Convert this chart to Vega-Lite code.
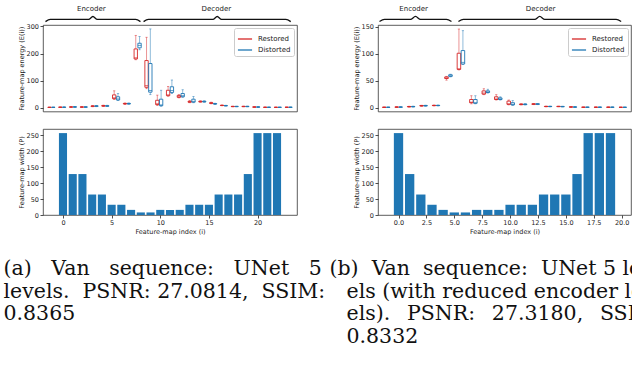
{
  "$schema": "https://vega.github.io/schema/vega-lite/v6.json",
  "background": "white",
  "padding": {"left": 3, "top": 4, "right": 0, "bottom": 0},
  "bounds": "flush",
  "columns": 2,
  "spacing": {"row": 17, "column": 81},
  "datasets": {
    "boxA": [
      {"i":0,"s":"Restored","lo":0.2,"q1":0.5,"med":0.8,"q3":1.2,"hi":1.8},
      {"i":1,"s":"Restored","lo":0.5,"q1":0.9,"med":1.2,"q3":1.6,"hi":2.2},
      {"i":2,"s":"Restored","lo":1.0,"q1":1.6,"med":2.0,"q3":2.6,"hi":3.5},
      {"i":3,"s":"Restored","lo":1.0,"q1":1.5,"med":2.0,"q3":2.5,"hi":3.2},
      {"i":4,"s":"Restored","lo":3,"q1":4.5,"med":5,"q3":6,"hi":7.5},
      {"i":5,"s":"Restored","lo":4,"q1":5.5,"med":6.5,"q3":7.5,"hi":9},
      {"i":6,"s":"Restored","lo":30,"q1":33,"med":36,"q3":47,"hi":62},
      {"i":7,"s":"Restored","lo":12,"q1":13.5,"med":14.5,"q3":15.5,"hi":17},
      {"i":8,"s":"Restored","lo":177,"q1":180,"med":184,"q3":217,"hi":267},
      {"i":9,"s":"Restored","lo":70,"q1":75,"med":81,"q3":174,"hi":260},
      {"i":10,"s":"Restored","lo":8,"q1":11,"med":14,"q3":27,"hi":46},
      {"i":11,"s":"Restored","lo":42,"q1":44,"med":47,"q3":64,"hi":78},
      {"i":12,"s":"Restored","lo":36,"q1":38,"med":40,"q3":45,"hi":48},
      {"i":13,"s":"Restored","lo":18,"q1":20,"med":21,"q3":23,"hi":26},
      {"i":14,"s":"Restored","lo":20,"q1":21,"med":22,"q3":23.5,"hi":25},
      {"i":15,"s":"Restored","lo":14,"q1":15.5,"med":16.5,"q3":18,"hi":20},
      {"i":16,"s":"Restored","lo":7,"q1":7.5,"med":8,"q3":8.5,"hi":9.5},
      {"i":17,"s":"Restored","lo":3,"q1":3.5,"med":4,"q3":4.5,"hi":5},
      {"i":18,"s":"Restored","lo":3,"q1":3.5,"med":4,"q3":4.5,"hi":5.5},
      {"i":19,"s":"Restored","lo":1,"q1":1.5,"med":2,"q3":2.5,"hi":3},
      {"i":20,"s":"Restored","lo":0.5,"q1":0.8,"med":1,"q3":1.3,"hi":1.8},
      {"i":21,"s":"Restored","lo":0.4,"q1":0.7,"med":0.9,"q3":1.2,"hi":1.6},
      {"i":22,"s":"Restored","lo":0.5,"q1":0.8,"med":1,"q3":1.4,"hi":2},
      {"i":0,"s":"Distorted","lo":0.2,"q1":0.5,"med":0.8,"q3":1.2,"hi":1.8},
      {"i":1,"s":"Distorted","lo":0.5,"q1":0.9,"med":1.2,"q3":1.6,"hi":2.2},
      {"i":2,"s":"Distorted","lo":1.2,"q1":1.8,"med":2.3,"q3":2.8,"hi":3.6},
      {"i":3,"s":"Distorted","lo":1.0,"q1":1.5,"med":2,"q3":2.5,"hi":3.2},
      {"i":4,"s":"Distorted","lo":3.5,"q1":4.5,"med":5.5,"q3":6.5,"hi":8},
      {"i":5,"s":"Distorted","lo":4,"q1":5,"med":6,"q3":7,"hi":8.5},
      {"i":6,"s":"Distorted","lo":26,"q1":28,"med":32,"q3":40,"hi":52},
      {"i":7,"s":"Distorted","lo":12.5,"q1":13.5,"med":14.5,"q3":15.5,"hi":17},
      {"i":8,"s":"Distorted","lo":214,"q1":221,"med":230,"q3":238,"hi":263},
      {"i":9,"s":"Distorted","lo":48,"q1":57,"med":63,"q3":163,"hi":291},
      {"i":10,"s":"Distorted","lo":5,"q1":7,"med":10,"q3":31,"hi":64},
      {"i":11,"s":"Distorted","lo":52,"q1":56,"med":63,"q3":77,"hi":102},
      {"i":12,"s":"Distorted","lo":38,"q1":40,"med":44,"q3":52,"hi":66},
      {"i":13,"s":"Distorted","lo":18,"q1":20,"med":23,"q3":31,"hi":41},
      {"i":14,"s":"Distorted","lo":20,"q1":21,"med":22,"q3":23.5,"hi":25},
      {"i":15,"s":"Distorted","lo":12,"q1":13,"med":14,"q3":15,"hi":16},
      {"i":16,"s":"Distorted","lo":6,"q1":6.5,"med":7,"q3":7.5,"hi":8.5},
      {"i":17,"s":"Distorted","lo":3,"q1":3.5,"med":4,"q3":4.5,"hi":5},
      {"i":18,"s":"Distorted","lo":3,"q1":3.5,"med":4,"q3":4.5,"hi":5.5},
      {"i":19,"s":"Distorted","lo":1,"q1":1.5,"med":2,"q3":2.5,"hi":3},
      {"i":20,"s":"Distorted","lo":0.5,"q1":0.8,"med":1,"q3":1.3,"hi":1.8},
      {"i":21,"s":"Distorted","lo":0.4,"q1":0.7,"med":0.9,"q3":1.2,"hi":1.6},
      {"i":22,"s":"Distorted","lo":0.5,"q1":0.8,"med":1,"q3":1.4,"hi":2}
    ],
    "boxB": [
      {"i":0,"s":"Restored","lo":0.1,"q1":0.3,"med":0.5,"q3":0.7,"hi":1.0},
      {"i":1,"s":"Restored","lo":0.4,"q1":0.7,"med":0.9,"q3":1.1,"hi":1.4},
      {"i":2,"s":"Restored","lo":1.0,"q1":1.4,"med":1.7,"q3":2.0,"hi":2.4},
      {"i":3,"s":"Restored","lo":2.5,"q1":3.0,"med":3.4,"q3":3.8,"hi":4.3},
      {"i":4,"s":"Restored","lo":3.2,"q1":3.6,"med":3.9,"q3":4.2,"hi":4.6},
      {"i":5,"s":"Restored","lo":51,"q1":54,"med":55,"q3":57,"hi":58},
      {"i":6,"s":"Restored","lo":70,"q1":71,"med":72,"q3":101,"hi":146},
      {"i":7,"s":"Restored","lo":7,"q1":9,"med":10,"q3":15,"hi":22},
      {"i":8,"s":"Restored","lo":24,"q1":25,"med":27,"q3":31,"hi":35},
      {"i":9,"s":"Restored","lo":14,"q1":15,"med":16,"q3":20,"hi":24},
      {"i":10,"s":"Restored","lo":5,"q1":6,"med":7,"q3":12,"hi":14},
      {"i":11,"s":"Restored","lo":5,"q1":5.5,"med":6,"q3":6.5,"hi":7},
      {"i":12,"s":"Restored","lo":5.5,"q1":6,"med":6.5,"q3":7,"hi":7.5},
      {"i":13,"s":"Restored","lo":1.5,"q1":1.8,"med":2,"q3":2.3,"hi":2.6},
      {"i":14,"s":"Restored","lo":1.5,"q1":1.8,"med":2,"q3":2.3,"hi":2.6},
      {"i":15,"s":"Restored","lo":0.6,"q1":0.9,"med":1.1,"q3":1.3,"hi":1.6},
      {"i":16,"s":"Restored","lo":0.3,"q1":0.5,"med":0.6,"q3":0.8,"hi":1},
      {"i":17,"s":"Restored","lo":0.3,"q1":0.5,"med":0.6,"q3":0.8,"hi":1},
      {"i":18,"s":"Restored","lo":0.3,"q1":0.5,"med":0.6,"q3":0.8,"hi":1.1},
      {"i":19,"s":"Restored","lo":0.2,"q1":0.4,"med":0.5,"q3":0.6,"hi":0.8},
      {"i":0,"s":"Distorted","lo":0.1,"q1":0.3,"med":0.5,"q3":0.7,"hi":1.0},
      {"i":1,"s":"Distorted","lo":0.4,"q1":0.7,"med":0.9,"q3":1.1,"hi":1.4},
      {"i":2,"s":"Distorted","lo":1.1,"q1":1.5,"med":1.8,"q3":2.1,"hi":2.5},
      {"i":3,"s":"Distorted","lo":2.6,"q1":3.1,"med":3.5,"q3":3.9,"hi":4.4},
      {"i":4,"s":"Distorted","lo":3.2,"q1":3.6,"med":3.9,"q3":4.2,"hi":4.6},
      {"i":5,"s":"Distorted","lo":57,"q1":58,"med":59,"q3":61,"hi":62},
      {"i":6,"s":"Distorted","lo":80,"q1":81,"med":84,"q3":106,"hi":143},
      {"i":7,"s":"Distorted","lo":7,"q1":8,"med":9,"q3":15,"hi":22},
      {"i":8,"s":"Distorted","lo":27,"q1":28,"med":29,"q3":31,"hi":34},
      {"i":9,"s":"Distorted","lo":14,"q1":15,"med":16,"q3":18,"hi":20},
      {"i":10,"s":"Distorted","lo":4,"q1":5,"med":6,"q3":9,"hi":13},
      {"i":11,"s":"Distorted","lo":5,"q1":5.5,"med":6,"q3":6.5,"hi":7},
      {"i":12,"s":"Distorted","lo":5.5,"q1":6,"med":6.5,"q3":7,"hi":7.5},
      {"i":13,"s":"Distorted","lo":1.5,"q1":1.8,"med":2,"q3":2.3,"hi":2.6},
      {"i":14,"s":"Distorted","lo":1.3,"q1":1.6,"med":1.8,"q3":2.1,"hi":2.4},
      {"i":15,"s":"Distorted","lo":0.5,"q1":0.8,"med":1,"q3":1.2,"hi":1.5},
      {"i":16,"s":"Distorted","lo":0.3,"q1":0.5,"med":0.6,"q3":0.8,"hi":1},
      {"i":17,"s":"Distorted","lo":0.3,"q1":0.5,"med":0.6,"q3":0.8,"hi":1},
      {"i":18,"s":"Distorted","lo":0.3,"q1":0.5,"med":0.6,"q3":0.8,"hi":1.1},
      {"i":19,"s":"Distorted","lo":0.2,"q1":0.4,"med":0.5,"q3":0.6,"hi":0.8}
    ],
    "barA": [
      {"i":0,"w":256},{"i":1,"w":128},{"i":2,"w":128},{"i":3,"w":64},{"i":4,"w":64},{"i":5,"w":32},{"i":6,"w":32},{"i":7,"w":16},{"i":8,"w":8},{"i":9,"w":8},{"i":10,"w":16},{"i":11,"w":16},{"i":12,"w":16},{"i":13,"w":32},{"i":14,"w":32},{"i":15,"w":32},{"i":16,"w":64},{"i":17,"w":64},{"i":18,"w":64},{"i":19,"w":128},{"i":20,"w":256},{"i":21,"w":256},{"i":22,"w":256}
    ],
    "barB": [
      {"i":0,"w":256},{"i":1,"w":128},{"i":2,"w":64},{"i":3,"w":32},{"i":4,"w":16},{"i":5,"w":8},{"i":6,"w":8},{"i":7,"w":16},{"i":8,"w":16},{"i":9,"w":16},{"i":10,"w":32},{"i":11,"w":32},{"i":12,"w":32},{"i":13,"w":64},{"i":14,"w":64},{"i":15,"w":64},{"i":16,"w":128},{"i":17,"w":256},{"i":18,"w":256},{"i":19,"w":256}
    ],
    "braceA": [
      {"part":"enc","x":-0.55,"y":318},{"part":"enc","x":-0.1,"y":326},{"part":"enc","x":3.45,"y":326},{"part":"enc","x":3.85,"y":337},{"part":"enc","x":4.25,"y":326},{"part":"enc","x":7.81,"y":326},{"part":"enc","x":8.26,"y":318},
      {"part":"dec","x":8.55,"y":318},{"part":"dec","x":9.0,"y":326},{"part":"dec","x":14.98,"y":326},{"part":"dec","x":15.38,"y":337},{"part":"dec","x":15.78,"y":326},{"part":"dec","x":21.75,"y":326},{"part":"dec","x":22.2,"y":318}
    ],
    "labelA": [{"t":"Encoder","x":3.7,"y":366},{"t":"Decoder","x":15.3,"y":366}],
    "braceB": [
      {"part":"enc","x":-0.54,"y":160},{"part":"enc","x":-0.14,"y":163.8},{"part":"enc","x":1.95,"y":163.8},{"part":"enc","x":2.35,"y":169.4},{"part":"enc","x":2.75,"y":163.8},{"part":"enc","x":4.84,"y":163.8},{"part":"enc","x":5.24,"y":160},
      {"part":"dec","x":5.8,"y":160},{"part":"dec","x":6.2,"y":163.8},{"part":"dec","x":11.93,"y":163.8},{"part":"dec","x":12.33,"y":169.4},{"part":"dec","x":12.73,"y":163.8},{"part":"dec","x":18.47,"y":163.8},{"part":"dec","x":18.87,"y":160}
    ],
    "labelB": [{"t":"Encoder","x":2.2,"y":184},{"t":"Decoder","x":12.4,"y":184}],
    "capA": [
      {"line":0,"t":"(a)\u00a0\u00a0\u00a0Van\u00a0\u00a0\u00a0sequence:\u00a0\u00a0\u00a0UNet\u00a0\u00a0\u00a05"},
      {"line":1,"t":"levels.\u00a0 PSNR: 27.0814,\u00a0 SSIM:"},
      {"line":2,"t":"0.8365"}
    ],
    "capB": [
      {"line":0,"t":"(b)\u00a0 Van\u00a0 sequence:\u00a0 UNet 5 lev-"},
      {"line":1,"t":"els (with reduced encoder lev-"},
      {"line":2,"t":"els).\u00a0\u2002PSNR:\u00a0\u200227.3180,\u00a0\u2002SSIM:"},
      {"line":3,"t":"0.8332"}
    ]
  },
  "concat": [
    {
      "width": 254, "height": 86.5,
      "layer": [
        {
          "data": {"name": "boxA"},
          "mark": {"type": "bar", "filled": false, "strokeWidth": 0.9},
          "encoding": {
            "x": {"field": "i", "type": "ordinal", "scale": {"paddingInner": 0, "paddingOuter": 0.28}, "axis": null},
            "xOffset": {"field": "s", "type": "nominal", "sort": ["Restored", "Distorted"], "scale": {"paddingInner": 0.12, "paddingOuter": 0.48}},
            "color": {"field": "s", "type": "nominal", "sort": ["Restored", "Distorted"], "scale": {"domain": ["Restored", "Distorted"], "range": ["#d62728", "#1f77b4"]}, "legend": {"title": null, "orient": "top-right"}},
            "y": {"field": "q1", "type": "quantitative", "scale": {"domain": [-14.5, 305.5], "nice": false, "zero": false}, "axis": {"values": [0, 100, 200, 300], "labelOverlap": false, "title": "Feature-map energy (E(i))"}},
            "y2": {"field": "q3"}
          }
        },
        {
          "data": {"name": "boxA"},
          "mark": {"type": "rule", "opacity": 0.55, "strokeWidth": 0.9},
          "encoding": {
            "x": {"field": "i", "type": "ordinal", "scale": {"paddingInner": 0, "paddingOuter": 0.28}, "axis": null},
            "xOffset": {"field": "s", "type": "nominal", "sort": ["Restored", "Distorted"], "scale": {"paddingInner": 0.12, "paddingOuter": 0.48}},
            "color": {"field": "s", "type": "nominal", "sort": ["Restored", "Distorted"]},
            "y": {"field": "lo", "type": "quantitative", "scale": {"domain": [-14.5, 305.5], "nice": false, "zero": false}, "axis": null},
            "y2": {"field": "q1"}
          }
        },
        {
          "data": {"name": "boxA"},
          "mark": {"type": "rule", "opacity": 0.55, "strokeWidth": 0.9},
          "encoding": {
            "x": {"field": "i", "type": "ordinal", "scale": {"paddingInner": 0, "paddingOuter": 0.28}, "axis": null},
            "xOffset": {"field": "s", "type": "nominal", "sort": ["Restored", "Distorted"], "scale": {"paddingInner": 0.12, "paddingOuter": 0.48}},
            "color": {"field": "s", "type": "nominal", "sort": ["Restored", "Distorted"]},
            "y": {"field": "q3", "type": "quantitative", "scale": {"domain": [-14.5, 305.5], "nice": false, "zero": false}, "axis": null},
            "y2": {"field": "hi"}
          }
        },
        {
          "data": {"name": "boxA"},
          "mark": {"type": "tick", "opacity": 0.55, "size": 2.2, "thickness": 0.9},
          "encoding": {
            "x": {"field": "i", "type": "ordinal", "scale": {"paddingInner": 0, "paddingOuter": 0.28}, "axis": null},
            "xOffset": {"field": "s", "type": "nominal", "sort": ["Restored", "Distorted"], "scale": {"paddingInner": 0.12, "paddingOuter": 0.48}},
            "color": {"field": "s", "type": "nominal", "sort": ["Restored", "Distorted"]},
            "y": {"field": "lo", "type": "quantitative", "scale": {"domain": [-14.5, 305.5], "nice": false, "zero": false}, "axis": null}
          }
        },
        {
          "data": {"name": "boxA"},
          "mark": {"type": "tick", "opacity": 0.55, "size": 2.2, "thickness": 0.9},
          "encoding": {
            "x": {"field": "i", "type": "ordinal", "scale": {"paddingInner": 0, "paddingOuter": 0.28}, "axis": null},
            "xOffset": {"field": "s", "type": "nominal", "sort": ["Restored", "Distorted"], "scale": {"paddingInner": 0.12, "paddingOuter": 0.48}},
            "color": {"field": "s", "type": "nominal", "sort": ["Restored", "Distorted"]},
            "y": {"field": "hi", "type": "quantitative", "scale": {"domain": [-14.5, 305.5], "nice": false, "zero": false}, "axis": null}
          }
        },
        {
          "data": {"name": "boxA"},
          "mark": {"type": "tick", "size": 3.4, "thickness": 1},
          "encoding": {
            "x": {"field": "i", "type": "ordinal", "scale": {"paddingInner": 0, "paddingOuter": 0.28}, "axis": null},
            "xOffset": {"field": "s", "type": "nominal", "sort": ["Restored", "Distorted"], "scale": {"paddingInner": 0.12, "paddingOuter": 0.48}},
            "color": {"field": "s", "type": "nominal", "sort": ["Restored", "Distorted"]},
            "y": {"field": "med", "type": "quantitative", "scale": {"domain": [-14.5, 305.5], "nice": false, "zero": false}, "axis": null}
          }
        },
        {
          "data": {"name": "braceA"},
          "mark": {"type": "line", "interpolate": "monotone", "color": "#111", "strokeWidth": 1.3},
          "encoding": {
            "x": {"field": "x", "type": "quantitative", "scale": {"domain": [-0.78, 22.78], "nice": false, "zero": false}, "axis": null},
            "y": {"field": "y", "type": "quantitative", "scale": {"domain": [-14.5, 305.5], "nice": false, "zero": false}, "axis": null},
            "detail": {"field": "part"}
          }
        },
        {
          "data": {"name": "labelA"},
          "mark": {"type": "text", "font": "DejaVu Sans", "fontSize": 7, "color": "#222"},
          "encoding": {
            "x": {"field": "x", "type": "quantitative", "scale": {"domain": [-0.78, 22.78], "nice": false, "zero": false}, "axis": null},
            "y": {"field": "y", "type": "quantitative", "scale": {"domain": [-14.5, 305.5], "nice": false, "zero": false}, "axis": null},
            "text": {"field": "t"}
          }
        }
      ],
      "resolve": {"scale": {"x": "independent", "y": "independent", "xOffset": "independent"}, "axis": {"x": "independent", "y": "independent"}}
    },
    {
      "width": 253, "height": 86.5,
      "layer": [
        {
          "data": {"name": "boxB"},
          "mark": {"type": "bar", "filled": false, "strokeWidth": 0.9},
          "encoding": {
            "x": {"field": "i", "type": "ordinal", "scale": {"paddingInner": 0, "paddingOuter": 0.16}, "axis": null},
            "xOffset": {"field": "s", "type": "nominal", "sort": ["Restored", "Distorted"], "scale": {"paddingInner": 0.12, "paddingOuter": 0.62}},
            "color": {"field": "s", "type": "nominal", "sort": ["Restored", "Distorted"], "scale": {"domain": ["Restored", "Distorted"], "range": ["#d62728", "#1f77b4"]}, "legend": {"title": null, "orient": "top-right"}},
            "y": {"field": "q1", "type": "quantitative", "scale": {"domain": [-7.3, 153.5], "nice": false, "zero": false}, "axis": {"values": [0, 50, 100, 150], "labelOverlap": false, "title": "Feature-map energy (E(i))"}},
            "y2": {"field": "q3"}
          }
        },
        {
          "data": {"name": "boxB"},
          "mark": {"type": "rule", "opacity": 0.55, "strokeWidth": 0.9},
          "encoding": {
            "x": {"field": "i", "type": "ordinal", "scale": {"paddingInner": 0, "paddingOuter": 0.16}, "axis": null},
            "xOffset": {"field": "s", "type": "nominal", "sort": ["Restored", "Distorted"], "scale": {"paddingInner": 0.12, "paddingOuter": 0.62}},
            "color": {"field": "s", "type": "nominal", "sort": ["Restored", "Distorted"]},
            "y": {"field": "lo", "type": "quantitative", "scale": {"domain": [-7.3, 153.5], "nice": false, "zero": false}, "axis": null},
            "y2": {"field": "q1"}
          }
        },
        {
          "data": {"name": "boxB"},
          "mark": {"type": "rule", "opacity": 0.55, "strokeWidth": 0.9},
          "encoding": {
            "x": {"field": "i", "type": "ordinal", "scale": {"paddingInner": 0, "paddingOuter": 0.16}, "axis": null},
            "xOffset": {"field": "s", "type": "nominal", "sort": ["Restored", "Distorted"], "scale": {"paddingInner": 0.12, "paddingOuter": 0.62}},
            "color": {"field": "s", "type": "nominal", "sort": ["Restored", "Distorted"]},
            "y": {"field": "q3", "type": "quantitative", "scale": {"domain": [-7.3, 153.5], "nice": false, "zero": false}, "axis": null},
            "y2": {"field": "hi"}
          }
        },
        {
          "data": {"name": "boxB"},
          "mark": {"type": "tick", "opacity": 0.55, "size": 2.2, "thickness": 0.9},
          "encoding": {
            "x": {"field": "i", "type": "ordinal", "scale": {"paddingInner": 0, "paddingOuter": 0.16}, "axis": null},
            "xOffset": {"field": "s", "type": "nominal", "sort": ["Restored", "Distorted"], "scale": {"paddingInner": 0.12, "paddingOuter": 0.62}},
            "color": {"field": "s", "type": "nominal", "sort": ["Restored", "Distorted"]},
            "y": {"field": "lo", "type": "quantitative", "scale": {"domain": [-7.3, 153.5], "nice": false, "zero": false}, "axis": null}
          }
        },
        {
          "data": {"name": "boxB"},
          "mark": {"type": "tick", "opacity": 0.55, "size": 2.2, "thickness": 0.9},
          "encoding": {
            "x": {"field": "i", "type": "ordinal", "scale": {"paddingInner": 0, "paddingOuter": 0.16}, "axis": null},
            "xOffset": {"field": "s", "type": "nominal", "sort": ["Restored", "Distorted"], "scale": {"paddingInner": 0.12, "paddingOuter": 0.62}},
            "color": {"field": "s", "type": "nominal", "sort": ["Restored", "Distorted"]},
            "y": {"field": "hi", "type": "quantitative", "scale": {"domain": [-7.3, 153.5], "nice": false, "zero": false}, "axis": null}
          }
        },
        {
          "data": {"name": "boxB"},
          "mark": {"type": "tick", "size": 3.6, "thickness": 1},
          "encoding": {
            "x": {"field": "i", "type": "ordinal", "scale": {"paddingInner": 0, "paddingOuter": 0.16}, "axis": null},
            "xOffset": {"field": "s", "type": "nominal", "sort": ["Restored", "Distorted"], "scale": {"paddingInner": 0.12, "paddingOuter": 0.62}},
            "color": {"field": "s", "type": "nominal", "sort": ["Restored", "Distorted"]},
            "y": {"field": "med", "type": "quantitative", "scale": {"domain": [-7.3, 153.5], "nice": false, "zero": false}, "axis": null}
          }
        },
        {
          "data": {"name": "braceB"},
          "mark": {"type": "line", "interpolate": "monotone", "color": "#111", "strokeWidth": 1.3},
          "encoding": {
            "x": {"field": "x", "type": "quantitative", "scale": {"domain": [-0.66, 19.66], "nice": false, "zero": false}, "axis": null},
            "y": {"field": "y", "type": "quantitative", "scale": {"domain": [-7.3, 153.5], "nice": false, "zero": false}, "axis": null},
            "detail": {"field": "part"}
          }
        },
        {
          "data": {"name": "labelB"},
          "mark": {"type": "text", "font": "DejaVu Sans", "fontSize": 7, "color": "#222"},
          "encoding": {
            "x": {"field": "x", "type": "quantitative", "scale": {"domain": [-0.66, 19.66], "nice": false, "zero": false}, "axis": null},
            "y": {"field": "y", "type": "quantitative", "scale": {"domain": [-7.3, 153.5], "nice": false, "zero": false}, "axis": null},
            "text": {"field": "t"}
          }
        }
      ],
      "resolve": {"scale": {"x": "independent", "y": "independent", "xOffset": "independent"}, "axis": {"x": "independent", "y": "independent"}}
    },
    {
      "width": 254, "height": 86,
      "data": {"name": "barA"},
      "mark": {"type": "bar", "size": 8.1, "color": "#1f77b4"},
      "encoding": {
        "x": {"field": "i", "type": "quantitative", "scale": {"domain": [-1.54, 23.54], "nice": false, "zero": false}, "axis": {"values": [0, 5, 10, 15, 20], "title": "Feature-map index (i)"}},
        "y": {"field": "w", "type": "quantitative", "scale": {"domain": [0, 268.8], "nice": false}, "axis": {"values": [0, 50, 100, 150, 200, 250], "title": "Feature-map width (P)"}}
      }
    },
    {
      "width": 253, "height": 86,
      "data": {"name": "barB"},
      "mark": {"type": "bar", "size": 9.3, "color": "#1f77b4"},
      "encoding": {
        "x": {"field": "i", "type": "quantitative", "scale": {"domain": [-1.39, 20.39], "nice": false, "zero": false}, "axis": {"values": [0, 2.5, 5, 7.5, 10, 12.5, 15, 17.5, 20], "format": ".1f", "title": "Feature-map index (i)"}},
        "y": {"field": "w", "type": "quantitative", "scale": {"domain": [0, 268.8], "nice": false}, "axis": {"values": [0, 50, 100, 150, 200, 250], "title": "Feature-map width (P)"}}
      }
    },
    {
      "width": 254, "height": 110,
      "view": {"stroke": null},
      "data": {"name": "capA"},
      "mark": {"type": "text", "align": "left", "baseline": "middle", "font": "DejaVu Serif", "fontSize": 20.5, "color": "#111", "dx": -39.5},
      "encoding": {
        "x": {"datum": 0, "type": "quantitative", "scale": {"domain": [0, 1]}, "axis": null},
        "y": {"field": "line", "type": "quantitative", "scale": {"domain": [-1.658, 3.231], "reverse": true, "nice": false, "zero": false}, "axis": null},
        "text": {"field": "t"}
      }
    },
    {
      "width": 253, "height": 110,
      "view": {"stroke": null},
      "data": {"name": "capB"},
      "layer": [
        {
          "transform": [{"filter": "datum.line == 0"}],
          "mark": {"type": "text", "align": "left", "baseline": "middle", "font": "DejaVu Serif", "fontSize": 20.5, "color": "#111", "dx": -48.5},
          "encoding": {
            "x": {"datum": 0, "type": "quantitative", "scale": {"domain": [0, 1]}, "axis": null},
            "y": {"field": "line", "type": "quantitative", "scale": {"domain": [-1.658, 3.231], "reverse": true, "nice": false, "zero": false}, "axis": null},
            "text": {"field": "t"}
          }
        },
        {
          "transform": [{"filter": "datum.line > 0"}],
          "mark": {"type": "text", "align": "left", "baseline": "middle", "font": "DejaVu Serif", "fontSize": 20.5, "color": "#111", "dx": -31.5},
          "encoding": {
            "x": {"datum": 0, "type": "quantitative", "scale": {"domain": [0, 1]}, "axis": null},
            "y": {"field": "line", "type": "quantitative", "scale": {"domain": [-1.658, 3.231], "reverse": true, "nice": false, "zero": false}, "axis": null},
            "text": {"field": "t"}
          }
        }
      ]
    }
  ],
  "resolve": {"scale": {"color": "independent", "x": "independent", "y": "independent"}, "legend": {"color": "independent"}},
  "config": {
    "font": "DejaVu Sans",
    "view": {"stroke": "#333", "strokeWidth": 0.8},
    "axis": {"labelFont": "DejaVu Sans", "titleFont": "DejaVu Sans", "labelFontSize": 6.5, "titleFontSize": 6.5, "titleFontWeight": "normal", "labelColor": "#222", "titleColor": "#222", "tickColor": "#222", "tickSize": 3, "tickWidth": 0.8, "domain": false, "grid": false, "labelPadding": 1.5, "titlePadding": 2, "labelFlush": false, "labelOverlap": false},
    "legend": {"symbolType": "stroke", "symbolSize": 200, "symbolStrokeWidth": 1.3, "labelFont": "DejaVu Sans", "labelFontSize": 7, "labelColor": "#222", "fillColor": "white", "strokeColor": "#ccc", "padding": 3, "cornerRadius": 2, "offset": 3, "rowPadding": 0, "labelOffset": 5}
  }
}
